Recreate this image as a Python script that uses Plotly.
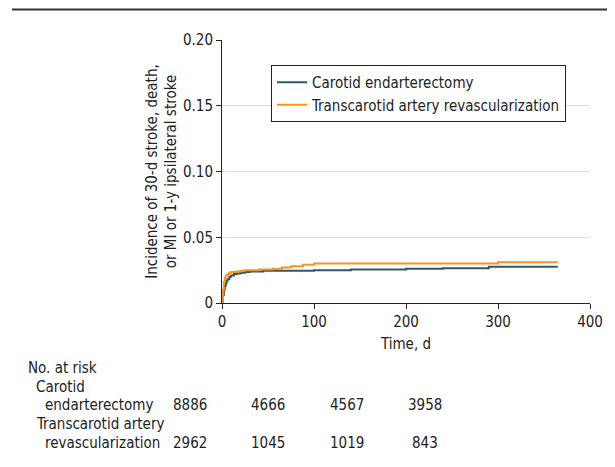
import plotly.graph_objects as go

# ---- data ----
cea_days = [0, 1, 2, 3, 4, 5, 6, 8, 10, 13, 16, 20, 25, 30, 45, 100, 140, 200, 240, 290, 365]
cea_inc = [0, 0.006, 0.010, 0.013, 0.015, 0.017, 0.018, 0.020, 0.021, 0.022, 0.0225, 0.023,
           0.0235, 0.024, 0.0245, 0.025, 0.0255, 0.026, 0.0265, 0.0275, 0.0275]
tcar_days = [0, 1, 2, 3, 4, 6, 8, 10, 15, 20, 25, 40, 55, 65, 75, 88, 100, 300, 365]
tcar_inc = [0, 0.010, 0.016, 0.019, 0.021, 0.022, 0.023, 0.0235, 0.024, 0.0245, 0.025,
            0.0255, 0.026, 0.027, 0.028, 0.029, 0.030, 0.031, 0.031]

series_names = ["Carotid endarterectomy", "Transcarotid artery revascularization"]
y_ticks = [0, 0.05, 0.10, 0.15, 0.20]
y_ticklabels = ["0", "0.05", "0.10", "0.15", "0.20"]
x_ticks = [0, 100, 200, 300, 400]

risk_title = "No. at risk"
risk_group_lines = [["Carotid", "endarterectomy"], ["Transcarotid artery", "revascularization"]]
risk_cea = ["8886", "4666", "4567", "3958"]
risk_tcar = ["2962", "1045", "1019", "843"]

FONT = "Liberation Sans Narrow, DejaVu Sans Condensed, Arial Narrow, sans-serif"
CEA_COLOR = "#2f5766"
TCAR_COLOR = "#f7941e"
FS = 15

OFF = 8  # page body margin
W, H = 615 - OFF, 467 - OFF
# plot area in screenshot pixels: x 222..590, y 40..303
L, R, T, B = 222 - OFF, W - (590 - OFF), 40 - OFF, H - (303 - OFF)
PW, PH = W - L - R, H - T - B

def px_x(px):  # screenshot px -> paper
    return (px - OFF - L) / PW

def px_y(py):
    return 1 - (py - OFF - T) / PH

fig = go.Figure()
fig.add_trace(go.Scatter(x=cea_days, y=cea_inc, mode="lines", line_shape="hv",
                         line=dict(color=CEA_COLOR, width=2), name=series_names[0]))
fig.add_trace(go.Scatter(x=tcar_days, y=tcar_inc, mode="lines", line_shape="hv",
                         line=dict(color=TCAR_COLOR, width=2), name=series_names[1]))

fig.update_layout(
    width=W, height=H,
    margin=dict(l=L, r=R, t=T, b=B, autoexpand=False),
    paper_bgcolor="white", plot_bgcolor="white",
    font=dict(family=FONT, size=FS, color="#222"),
    showlegend=True,
    legend=dict(x=px_x(271), y=px_y(65), xanchor="left", yanchor="top",
                bordercolor="#222", borderwidth=1, bgcolor="white",
                font=dict(size=FS, family=FONT), tracegroupgap=0),
    xaxis=dict(range=[0, 400], tickvals=x_ticks, showgrid=False, zeroline=False,
               showline=True, linecolor="#222", linewidth=1,
               ticks="outside", ticklen=5, tickcolor="#222",
               title=dict(text="Time, d", standoff=8, font=dict(size=FS)),
               tickfont=dict(size=FS)),
    yaxis=dict(range=[0, 0.20], tickvals=y_ticks, ticktext=y_ticklabels,
               showgrid=True, gridcolor="#dddddd", gridwidth=1, zeroline=False,
               showline=True, linecolor="#222", linewidth=1,
               ticks="outside", ticklen=5, tickcolor="#222",
               title=dict(text="Incidence of 30-d stroke, death,<br>or MI or 1-y ipsilateral stroke",
                          standoff=2, font=dict(size=FS)),
               tickfont=dict(size=FS)),
)

# top rule
fig.add_shape(type="line", xref="paper", yref="paper",
              x0=px_x(12), x1=px_x(640), y0=px_y(9.5), y1=px_y(9.5),
              line=dict(color="#333", width=2))

# number at risk table
def label(text, x, y, anchor="left"):
    fig.add_annotation(text=text, xref="paper", yref="paper", x=px_x(x), y=px_y(y),
                       xanchor=anchor, yanchor="middle", showarrow=False,
                       font=dict(size=FS, family=FONT))

label(risk_title, 26, 368)
label(risk_group_lines[0][0], 34, 387)
label(risk_group_lines[0][1], 43, 405)
label(risk_group_lines[1][0], 34, 424)
label(risk_group_lines[1][1], 43, 443)

col_px = [190, 268, 347, 425]
for cx, v in zip(col_px, risk_cea):
    label(v, cx, 405, "center")
for cx, v in zip(col_px, risk_tcar):
    label(v, cx, 443, "center")

fig.write_html("out.html")
